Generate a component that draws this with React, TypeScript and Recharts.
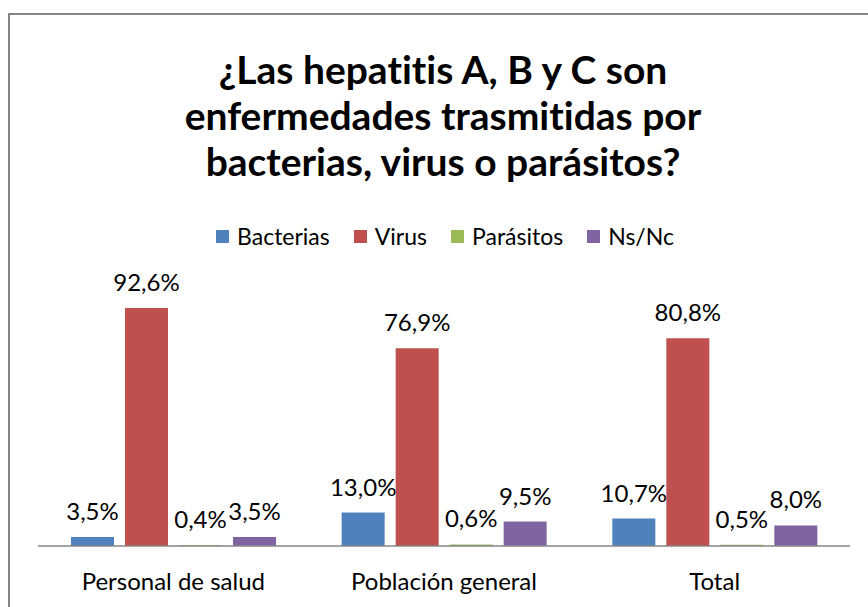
import React from "react";
import { BarChart, Bar, XAxis, YAxis, Legend, LabelList } from "recharts";

const categories = ["Personal de salud", "Población general", "Total"];
const bacterias = [3.5, 13.0, 10.7];
const virus = [92.6, 76.9, 80.8];
const parasitos = [0.4, 0.6, 0.5];
const nsnc = [3.5, 9.5, 8.0];

const series = [
  { key: "Bacterias", color: "#4F81BD" },
  { key: "Virus", color: "#C0504D" },
  { key: "Parásitos", color: "#9BBB59" },
  { key: "Ns/Nc", color: "#8064A2" },
];

const data = categories.map((name, i) => ({
  name,
  Bacterias: bacterias[i],
  Virus: virus[i],
  "Parásitos": parasitos[i],
  "Ns/Nc": nsnc[i],
}));

const FONT = "Lato, 'Open Sans', sans-serif";

const fmt = (v: number) => v.toFixed(1).replace(".", ",") + "%";

function LegendContent() {
  return (
    <div
      style={{
        display: "flex",
        justifyContent: "center",
        fontFamily: FONT,
        fontSize: 23,
        color: "#000",
        fontVariantLigatures: "none",
      }}
    >
      {series.map((s) => (
        <div key={s.key} style={{ display: "flex", alignItems: "center", margin: "0 12px" }}>
          <span style={{ width: 13, height: 13, background: s.color, display: "inline-block", marginRight: 8 }} />
          <span>{s.key}</span>
        </div>
      ))}
    </div>
  );
}

function Tick({ x, y, payload }: any) {
  return (
    <text x={x} y={y} dy={36} textAnchor="middle" fontFamily={FONT} fontSize={24} fill="#000">
      {payload.value}
    </text>
  );
}

export default function App() {
  return (
    <div style={{ position: "absolute", left: 0, top: 0, width: 868, height: 607, overflow: "hidden", background: "#fff" }}>
      <div
        style={{
          position: "absolute",
          left: 8,
          top: 13,
          width: 900,
          height: 700,
          borderLeft: "2px solid #868686",
          borderTop: "2px solid #868686",
        }}
      />
      <div
        style={{
          position: "absolute",
          left: 0,
          top: 46,
          width: 886,
          textAlign: "center",
          fontFamily: FONT,
          fontWeight: 700,
          fontSize: 39,
          lineHeight: "46px",
          color: "#000",
          fontVariantLigatures: "none",
        }}
      >
        ¿Las hepatitis A, B y C son
        <br />
        enfermedades trasmitidas por
        <br />
        bacterias, virus o parásitos?
      </div>
      <div style={{ position: "absolute", left: 0, top: 0 }}>
        <BarChart
          width={868}
          height={607}
          data={data}
          margin={{ top: 289, right: 18, left: 38, bottom: 31 }}
          barSize={43}
          barGap={11}
        >
          <XAxis
            dataKey="name"
            height={30}
            axisLine={{ stroke: "#868686", strokeWidth: 1.5 }}
            tickLine={false}
            tick={<Tick />}
          />
          <YAxis hide domain={[0, 100]} />
          <Legend
            layout="horizontal"
            verticalAlign="middle"
            align="center"
            wrapperStyle={{ top: 222, left: 0, width: 890 }}
            content={<LegendContent />}
          />
          {series.map((s) => (
            <Bar key={s.key} dataKey={s.key} fill={s.color} isAnimationActive={false}>
              <LabelList
                dataKey={s.key}
                position="top"
                offset={17}
                formatter={(v: any) => fmt(Number(v))}
                style={{ fontFamily: FONT, fontSize: 24, fill: "#000" }}
              />
            </Bar>
          ))}
        </BarChart>
      </div>
    </div>
  );
}
